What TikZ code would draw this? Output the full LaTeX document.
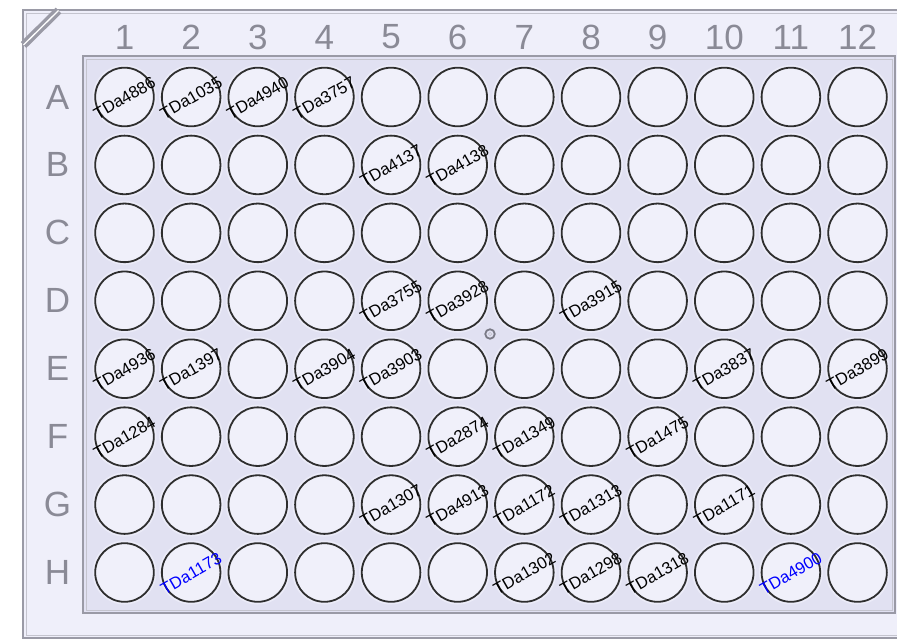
\documentclass[tikz,border=0pt]{standalone}
\usepackage{fontspec}
\setmainfont{Liberation Sans}
\definecolor{platefill}{HTML}{EFEFFA}
\definecolor{innerfill}{HTML}{E1E1F2}
\definecolor{halo}{HTML}{EBEBF8}
\definecolor{wellfill}{HTML}{F0F0FA}
\definecolor{edge}{HTML}{9A9AA6}
\definecolor{edgelight}{HTML}{C4C4CE}
\definecolor{headc}{HTML}{8A8A96}
\definecolor{wellline}{HTML}{2E2E2E}
\definecolor{markc}{HTML}{7A7A86}
\begin{document}
\begin{tikzpicture}[x=1pt,y=-1pt,
  wellnode/.style={circle,draw=wellline,line width=1.8pt,fill=wellfill,minimum size=58.6pt,inner sep=0pt},
  halonode/.style={circle,fill=halo,minimum size=64pt,inner sep=0pt},
  lab/.style={rotate=30,font=\fontsize{16.6}{16.6}\selectfont,inner sep=0pt,anchor=center},
  bluelab/.style={lab,text=blue},
  head/.style={text=headc,font=\fontsize{35}{35}\selectfont,inner sep=0pt}]
\useasboundingbox (0,0) rectangle (897,642);
\fill[white] (0,0) rectangle (897,642);
\begin{scope}
\clip (0,0) rectangle (897,642);
% outer plate
\draw[edge,line width=2pt,fill=platefill] (23,10) rectangle (920,638);
\draw[edgelight,line width=0.8pt] (26,13) rectangle (920,635);
% corner cut
\draw[edge,line width=3.4pt,double=white,double distance=1.3pt] (23.5,45) -- (58.5,10.5);
% inner plate
\draw[edge,line width=1.6pt,fill=innerfill] (83,56) rectangle (895,613);
\draw[edgelight,line width=0.8pt] (86,59) rectangle (892,610);
\end{scope}
% column numbers
\foreach \c in {1,...,12}{
  \node[head] (col\c) at ({124.5+66.64*(\c-1)},37) {\c};
}
% row letters
\foreach \r [count=\i from 0] in {A,B,C,D,E,F,G,H}{
  \node[head] (row\r) at (57.5,{97+67.93*\i}) {\r};
}
% wells
\foreach \r [count=\i from 0] in {A,B,C,D,E,F,G,H}{
  \foreach \c in {1,...,12}{
    \node[halonode] (h-\r-\c) at ({124.5+66.64*(\c-1)},{97+67.93*\i}) {};
    \node[wellnode] (w-\r-\c) at ({124.5+66.64*(\c-1)},{97+67.93*\i}) {};
  }
}
% small marker
\node[circle,draw=markc,line width=1.8pt,minimum size=9.5pt,inner sep=0pt] (mark) at (490,334) {};
\node[circle,draw=edgelight,line width=0.7pt,minimum size=3.5pt,inner sep=0pt] (markin) at (mark) {};
% labels
\foreach \w/\t in {A-1/TDa4886,A-2/TDa1035,A-3/TDa4940,A-4/TDa3757,
  B-5/TDa4137,B-6/TDa4138,
  D-5/TDa3755,D-6/TDa3928,D-8/TDa3915,
  E-1/TDa4936,E-2/TDa1397,E-4/TDa3904,E-5/TDa3903,E-10/TDa3837,E-12/TDa3899,
  F-1/TDa1284,F-6/TDa2874,F-7/TDa1349,F-9/TDa1475,
  G-5/TDa1307,G-6/TDa4913,G-7/TDa1172,G-8/TDa1313,G-10/TDa1171,
  H-7/TDa1302,H-8/TDa1298,H-9/TDa1318}{
  \node[lab] (l-\w) at ([xshift=0pt,yshift=-1pt]w-\w.center) {\t};
}
\node[bluelab] (l-H-2) at ([xshift=0pt,yshift=-1pt]w-H-2.center) {TDa1173};
\node[bluelab] (l-H-11) at ([xshift=0pt,yshift=-1pt]w-H-11.center) {TDa4900};
\end{tikzpicture}
\end{document}
